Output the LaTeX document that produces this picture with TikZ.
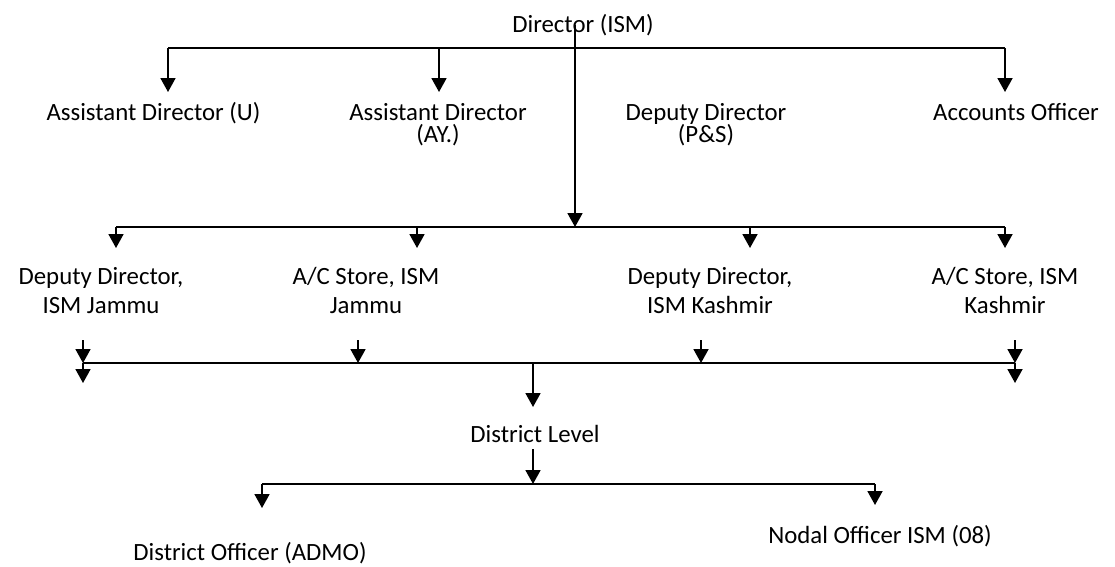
\documentclass[tikz,border=0pt]{standalone}
\usepackage{fontspec}
\setmainfont{Carlito}
\usetikzlibrary{arrows.meta}
\newcommand\mytightls{\lineskiplimit-30pt\relax}
\begin{document}
\begin{tikzpicture}[x=1pt,y=-1pt,
  conn/.style={line width=1.8pt},
  arr/.style={line width=1.8pt,-{Triangle[length=14pt,width=15pt]}},
  lbl/.style={anchor=base,inner sep=0pt,align=center,font=\fontsize{24.8}{22}\selectfont\mytightls},
  lbltwo/.style={lbl,font=\fontsize{24.8}{28.5}\selectfont\mytightls}]
\path[use as bounding box,fill=white] (0,0) rectangle (1115,566);
% labels (base anchor = baseline of the last line)
\node[lbl] (dir) at (583,32) {Director (ISM)};
\node[lbl] (adu) at (153.5,120) {Assistant Director (U)};
\node[lbl] (aday) at (438,142) {Assistant Director\\(AY.)};
\node[lbl] (ddps) at (706,142) {Deputy Director\\(P\&S)};
\node[lbl] (acc) at (1016,120) {Accounts Officer};
\node[lbltwo] (ddj) at (101,313) {Deputy Director,\\ISM Jammu};
\node[lbltwo] (acj) at (366,313) {A/C Store, ISM\\Jammu};
\node[lbltwo] (ddk) at (710,313) {Deputy Director,\\ISM Kashmir};
\node[lbltwo] (ack) at (1005,313) {A/C Store, ISM\\Kashmir};
\node[lbl] (dl) at (535,442) {District Level};
\node[lbl] (do) at (250,560) {District Officer (ADMO)};
\node[lbl] (no) at (880,543) {Nodal Officer ISM (08)};
% coordinates
\coordinate (d0) at (575,25);
\coordinate (h1l) at (168,48);
\coordinate (h1m) at (439,48);
\coordinate (h1r) at (1005,48);
\coordinate (t1a) at (168,92);
\coordinate (t1b) at (439,92);
\coordinate (t1c) at (1005,92);
\coordinate (h2c) at (575,227);
\coordinate (h2l) at (116,227);
\coordinate (h2b) at (417,227);
\coordinate (h2d) at (750,227);
\coordinate (h2r) at (1005,227);
\coordinate (t2a) at (116,248);
\coordinate (t2b) at (417,248);
\coordinate (t2c) at (750,248);
\coordinate (t2d) at (1005,248);
\coordinate (s3a) at (83,340);
\coordinate (s3b) at (358,340);
\coordinate (s3c) at (701,340);
\coordinate (s3d) at (1015,340);
\coordinate (h3a) at (83,363);
\coordinate (h3b) at (358,363);
\coordinate (h3c) at (701,363);
\coordinate (h3d) at (1015,363);
\coordinate (h3m) at (533,363);
\coordinate (b3a) at (83,383);
\coordinate (b3d) at (1015,383);
\coordinate (t3m) at (533,407);
\coordinate (s4) at (533,449);
\coordinate (h4m) at (533,484);
\coordinate (h4l) at (262,484);
\coordinate (h4r) at (875,484);
\coordinate (t4l) at (262,508);
\coordinate (t4r) at (875,505);
% connectors
\draw[conn] (h1l) -- (h1r);
\draw[arr] (h1l) -- (t1a);
\draw[arr] (h1m) -- (t1b);
\draw[arr] (h1r) -- (t1c);
\draw[arr] (d0) -- (h2c);
\draw[conn] (h2l) -- (h2r);
\draw[arr] (h2l) -- (t2a);
\draw[arr] (h2b) -- (t2b);
\draw[arr] (h2d) -- (t2c);
\draw[arr] (h2r) -- (t2d);
\draw[conn] (h3a) -- (h3d);
\draw[arr] (s3a) -- (h3a);
\draw[arr] (s3b) -- (h3b);
\draw[arr] (s3c) -- (h3c);
\draw[arr] (s3d) -- (h3d);
\draw[arr] (h3a) -- (b3a);
\draw[arr] (h3d) -- (b3d);
\draw[arr] (h3m) -- (t3m);
\draw[arr] (s4) -- (h4m);
\draw[conn] (h4l) -- (h4r);
\draw[arr] (h4l) -- (t4l);
\draw[arr] (h4r) -- (t4r);
\end{tikzpicture}
\end{document}
